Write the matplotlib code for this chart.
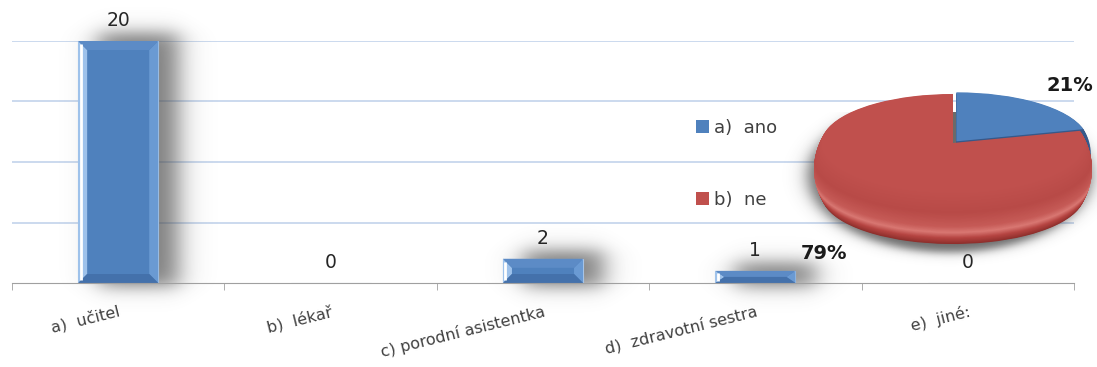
import numpy as np
import matplotlib
matplotlib.use("Agg")
import matplotlib.pyplot as plt
from matplotlib.patches import Polygon
from matplotlib.colors import to_rgb

categories = ["a)  učitel", "b)  lékař", "c) porodní asistentka",
              "d)  zdravotní sestra", "e)  jiné:"]
counts = [20, 0, 2, 1, 0]
pie_labels = ["a)  ano", "b)  ne"]
pie_shares = [21, 79]

W, H = 1097, 367
fig = plt.figure(figsize=(W / 100, H / 100), dpi=100)
fig.patch.set_facecolor("white")

BLUE = "#4F81BD"
RED = "#C0504D"


def soft_rect(ax, x0, x1, y0, y1, sx, sy, alpha, zorder, rgb=(0.3, 0.3, 0.3)):
    """Blurred rectangle drawn as an RGBA image in data coordinates."""
    ex0, ex1 = x0 - 3 * sx, x1 + 3 * sx
    ey0, ey1 = y0 - 3 * sy, y1 + 3 * sy
    xs = np.linspace(ex0, ex1, 300)
    ys = np.linspace(ey0, ey1, 300)
    fx = 0.5 * (np.tanh((xs - x0) / sx) - np.tanh((xs - x1) / sx))
    fy = 0.5 * (np.tanh((ys - y0) / sy) - np.tanh((ys - y1) / sy))
    img = np.zeros((300, 300, 4))
    img[..., :3] = rgb
    img[..., 3] = alpha * np.outer(fy, fx)
    ax.imshow(img, extent=(ex0, ex1, ey0, ey1), origin="lower", aspect="auto",
              zorder=zorder, interpolation="bilinear", clip_on=False)


# ---------------- bar chart ----------------
ax = fig.add_axes([12 / W, 84 / H, 1062 / W, 242 / H])
ax.set_facecolor("none")
x = np.arange(len(categories))
px_x = (len(categories)) / 1062.0   # data units per pixel, x
px_y = 20.0 / 242.0                 # data units per pixel, y

bars = ax.bar(x, counts, width=0.377, color=BLUE, edgecolor="#A9C6E8",
              linewidth=0.8, zorder=3)

for b in bars:
    h = b.get_height()
    if h <= 0:
        continue
    x0, w = b.get_x(), b.get_width()
    x1 = x0 + w
    # drop shadow, cast to the right
    soft_rect(ax, x0 + 20 * px_x, x1 + 20 * px_x, -4 * px_y, h + 8 * px_y,
              15 * px_x, 10 * px_y, 0.72, 2)
    # bevelled faces
    bx = 9 * px_x
    by = min(9 * px_y, h / 2)
    faces = [
        ([(x0, 0), (x0 + bx, by), (x0 + bx, h - by), (x0, h)], "#9EC2EB"),
        ([(x1, 0), (x1 - bx, by), (x1 - bx, h - by), (x1, h)], "#6A9AD3"),
        ([(x0, h), (x0 + bx, h - by), (x1 - bx, h - by), (x1, h)], "#5C8BC6"),
        ([(x0, 0), (x0 + bx, by), (x1 - bx, by), (x1, 0)], "#4471AB"),
    ]
    for pts, col in faces:
        ax.add_patch(Polygon(pts, closed=True, facecolor=col, edgecolor="none", zorder=4))
    ax.plot([x0 + 2.5 * px_x] * 2, [by * 0.3, h - by * 0.3], color="white",
            lw=2.0, zorder=5, solid_capstyle="butt")

for xi, v in zip(x, counts):
    ax.annotate(str(v), (xi, v), xytext=(0, 14.5), textcoords="offset points",
                ha="center", va="center", fontsize=13.5, color="#262626",
                annotation_clip=False, zorder=6)

ax.set_xlim(-0.5, len(categories) - 0.5)
ax.set_ylim(0, 20)
ax.set_yticks([5, 10, 15, 20])
ax.tick_params(axis="y", length=0, labelleft=False)
ax.grid(axis="y", color="#BDD0EA", lw=1.1, zorder=0)
ax.set_axisbelow(True)
for s in ("top", "right", "left"):
    ax.spines[s].set_visible(False)
ax.spines["bottom"].set_color("#A0A0A0")
ax.spines["bottom"].set_zorder(6)

ax.set_xticks(x)
ax.set_xticklabels(categories, rotation=14, ha="right", va="top",
                   rotation_mode="anchor", fontsize=11.5, color="#404040")
ax.tick_params(axis="x", which="major", length=0, pad=15)
ax.set_xticks(np.arange(-0.5, len(categories)), minor=True)
ax.tick_params(axis="x", which="minor", length=5, color="#A0A0A0")

# ---------------- 3-D pie chart ----------------
# unit radius = 139 px horizontally, 52 px vertically; centre of top face at (953, 143)
pax = fig.add_axes([814 / W, (H - (143 + 2.1 * 52)) / H, 278 / W, 3.2 * 52 / H])
pax.set_facecolor("none")
depth = 1.0          # thickness of the disc, in vertical radius units
explode = [0.04, 0.0]


def layer_radius(k):
    # rounded rim: widest a little below the top face
    return np.sqrt(1 - ((k - 0.5) / 1.5) ** 2)


# soft shadow under the disc
gx = np.linspace(-1.5, 1.5, 300)
gy = np.linspace(-2.8, 0.6, 300)
GX, GY = np.meshgrid(gx, gy)
r = np.sqrt(((GX + 0.03) / 1.02) ** 2 + ((GY + 0.62) / 1.48) ** 2)
shadow = np.zeros((300, 300, 4))
shadow[..., :3] = 0.22
shadow[..., 3] = 0.75 * 0.5 * (1 - np.tanh((r - 1.0) / 0.07))
pax.imshow(shadow, extent=(-1.5, 1.5, -2.8, 0.6), origin="lower",
           aspect="auto", zorder=0, interpolation="bilinear", clip_on=False)

# vertical colour profile of the red rim
rim_t = [0.0, 0.35, 0.62, 0.74, 0.86, 1.0]
rim_c = ["#C0504D", "#B84A47", "#C65B57", "#D97873", "#B64542", "#8E2F2C"]
rim_rgb = np.array([to_rgb(c) for c in rim_c])
blue_side = "#36598A"
for k in np.linspace(depth, 0.0, 70)[:-1]:
    t = k / depth
    col = [np.interp(t, rim_t, rim_rgb[:, i]) for i in range(3)]
    pax.pie(pie_shares, colors=[blue_side, col], startangle=90,
            counterclock=False, explode=explode, center=(0, -k),
            radius=layer_radius(k), wedgeprops=dict(linewidth=0))
wedges, _ = pax.pie(pie_shares, colors=[BLUE, RED], startangle=90,
                    counterclock=False, explode=explode,
                    radius=layer_radius(0.0), wedgeprops=dict(linewidth=0))

pax.text(0.842, 1.1, f"{pie_shares[0]}%", ha="center", va="center",
         fontsize=14, fontweight="bold", color="#1a1a1a", clip_on=False)
pax.text(-0.93, -2.12, f"{pie_shares[1]}%", ha="center", va="center",
         fontsize=14, fontweight="bold", color="#1a1a1a", clip_on=False)

pax.set_aspect("auto")
pax.set_xlim(-1, 1)
pax.set_ylim(-2.1, 1.1)
pax.axis("off")

fig.legend(wedges, pie_labels, loc="center left",
           bbox_to_anchor=(696 / W, 1 - 164 / H), frameon=False,
           borderpad=0, borderaxespad=0,
           handlelength=0.7, handleheight=0.7, handletextpad=0.3,
           labelspacing=3.0, fontsize=13, labelcolor="#404040")

fig.savefig("out.png", dpi=100, facecolor="white")
